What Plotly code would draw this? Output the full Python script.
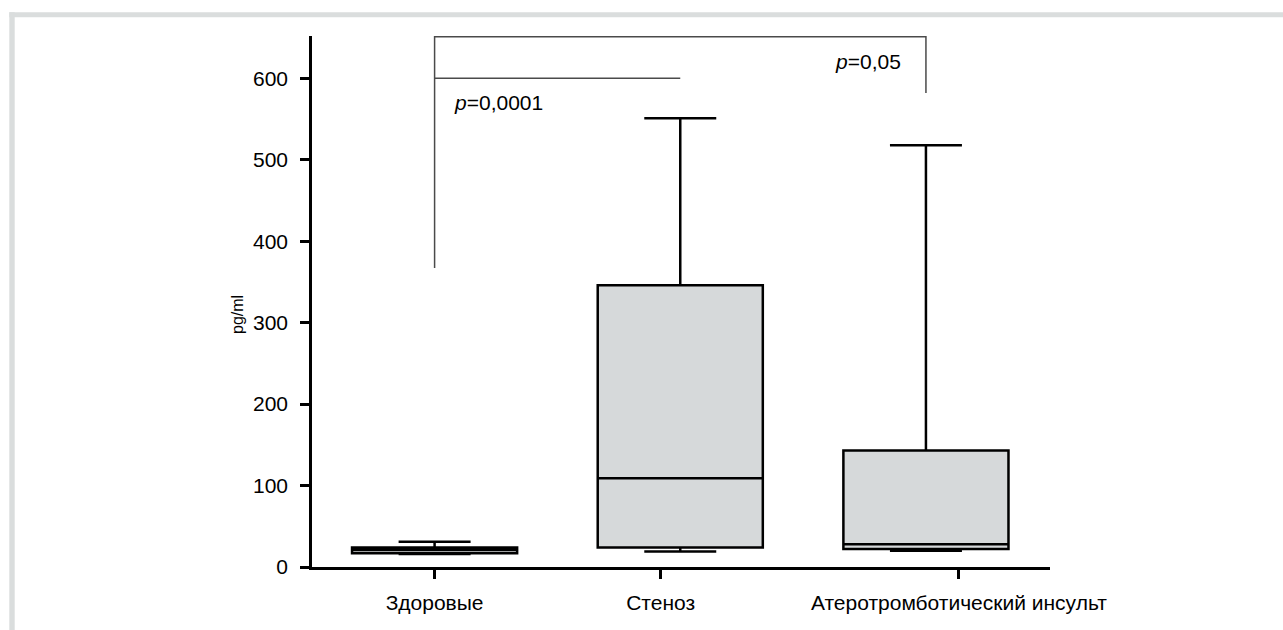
import plotly.graph_objects as go

categories = ["Здоровые", "Стеноз", "Атеротромботический инсульт"]
lower = [16, 19, 20]
q1 = [17, 24, 22]
median = [21, 109, 28]
q3 = [24, 346, 143]
upper = [31, 551, 518]

p_labels = ["<i>p</i>=0,0001", "<i>p</i>=0,05"]
bracket_top = 651
bracket_mid = 600
bracket_left_low = 367
bracket_right_low = 582

W, H = 1283, 630
L, R, T, B = 312, 233, 36, 63
pw, ph = W - L - R, H - T - B

def px(x):
    return (x - L) / pw

def py(y):
    return (H - B - y) / ph

fig = go.Figure()
fig.add_trace(go.Box(
    x=[0, 1, 2],
    lowerfence=lower, q1=q1, median=median, q3=q3, upperfence=upper,
    boxpoints=False,
    width=0.672,
    whiskerwidth=0.436,
    fillcolor="#d6d9da",
    line=dict(color="black", width=2.5),
    hoverinfo="skip",
    showlegend=False,
))

grey = "#4a4a4a"
fig.add_shape(type="path", xref="x", yref="y",
              path=f"M 0 {bracket_left_low} L 0 {bracket_top} L 2 {bracket_top} L 2 {bracket_right_low}",
              line=dict(color=grey, width=1.5))
fig.add_shape(type="line", xref="x", yref="y", x0=0, x1=1, y0=bracket_mid, y1=bracket_mid,
              line=dict(color=grey, width=1.5))

# frame
frame = "#dadddd"
fig.add_shape(type="rect", xref="paper", yref="paper", x0=px(9.3), x1=px(1283), y0=py(17.3), y1=py(12.3),
              fillcolor=frame, line=dict(width=0), layer="below")
fig.add_shape(type="rect", xref="paper", yref="paper", x0=px(9.3), x1=px(14.7), y0=py(630), y1=py(12.3),
              fillcolor=frame, line=dict(width=0), layer="below")

fam = "Liberation Sans, Arial, sans-serif"
font = dict(family=fam, size=21, color="black")

fig.add_annotation(x=px(452), y=py(103), xref="paper", yref="paper", text=p_labels[0],
                   showarrow=False, xanchor="left", yanchor="middle", font=font)
fig.add_annotation(x=px(833), y=py(61), xref="paper", yref="paper", text=p_labels[1],
                   showarrow=False, xanchor="left", yanchor="middle", font=font)
fig.add_annotation(x=px(238), y=py(315), xref="paper", yref="paper", text="pg/ml",
                   showarrow=False, textangle=-90, xanchor="center", yanchor="middle",
                   font=dict(family=fam, size=16, color="black"))

fig.update_layout(
    width=W, height=H,
    margin=dict(l=L, r=R, t=T, b=B),
    paper_bgcolor="white", plot_bgcolor="white",
    font=font,
    xaxis=dict(range=[-0.499, 2.505], tickvals=[0, 0.92, 2.134], ticktext=categories,
               showline=True, linecolor="black", linewidth=2.5, ticks="outside", ticklen=9,
               tickwidth=2.5, tickcolor="black", showgrid=False, zeroline=False,
               ticklabelstandoff=6),
    yaxis=dict(range=[0, 652], tickvals=[0, 100, 200, 300, 400, 500, 600],
               showline=True, linecolor="black", linewidth=2.5, ticks="outside", ticklen=9,
               tickwidth=2.5, tickcolor="black", showgrid=False, zeroline=False,
               ticklabelstandoff=8),
)

fig.write_html("out.html")
